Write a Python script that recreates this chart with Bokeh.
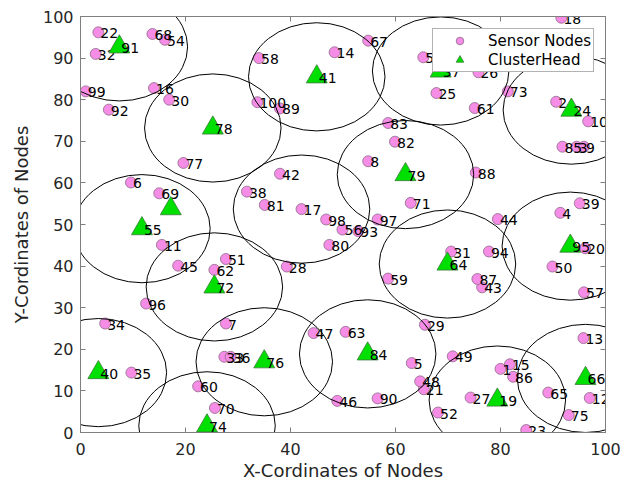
from bokeh.plotting import figure
from bokeh.models import (ColumnDataSource, Range1d, FixedTicker, LinearAxis,
                          Legend, LegendItem, Label)
from bokeh.embed import file_html
from bokeh.resources import INLINE
from bokeh.core.properties import value

# ---- sensor nodes (id, x, y) ----
sensor_ids = [1, 2, 3, 4, 5, 6, 7, 8, 9, 10, 11, 12, 13, 14, 15, 16, 17, 18, 20,
              21, 22, 23, 25, 26, 27, 28, 29, 30, 31, 32, 33, 34, 35, 36, 38, 39,
              42, 43, 44, 45, 46, 47, 48, 49, 50, 51, 52, 53, 54, 56, 57, 58, 59,
              60, 61, 62, 63, 65, 67, 68, 69, 70, 71, 73, 75, 77, 80, 81, 82, 83,
              85, 86, 87, 88, 89, 90, 92, 93, 94, 96, 97, 98, 99, 100]
sensor_x = [80.0, 90.6, 94.5, 91.4, 63.1, 9.6, 27.7, 54.8, 95.9, 96.7, 15.5, 97.0,
            95.8, 48.4, 81.8, 14.0, 42.1, 91.6, 96.1, 65.4, 3.4, 84.9, 67.8, 75.8,
            74.3, 39.3, 65.6, 16.9, 70.6, 2.9, 27.4, 4.7, 9.7, 28.6, 31.7, 95.1,
            38.0, 76.5, 79.5, 18.6, 48.9, 44.4, 64.7, 70.9, 89.9, 27.7, 68.1, 65.3,
            16.1, 49.9, 95.9, 34.0, 58.6, 22.4, 75.1, 25.5, 50.5, 89.1, 54.8, 13.7,
            15.0, 25.6, 62.9, 81.4, 93.0, 19.6, 47.4, 35.1, 59.9, 58.6, 91.8, 82.4,
            75.6, 75.3, 38.0, 56.6, 5.4, 52.9, 77.8, 12.5, 56.6, 46.8, 1.0, 33.7]
sensor_y = [15.3, 79.5, 68.7, 52.8, 16.7, 60.1, 26.2, 65.2, 68.7, 74.8, 45.1, 8.3,
            22.7, 91.4, 16.4, 82.8, 53.7, 99.7, 44.3, 10.4, 96.2, 0.6, 81.6, 86.6,
            8.4, 39.9, 25.9, 80.0, 43.5, 91.0, 18.2, 26.2, 14.4, 18.2, 57.9, 55.1,
            62.2, 34.9, 51.3, 40.1, 7.6, 23.9, 12.3, 18.3, 39.9, 41.7, 4.8, 90.2,
            94.4, 48.8, 33.7, 90.0, 37.0, 11.1, 78.0, 39.1, 24.2, 9.6, 94.2, 95.8,
            57.5, 5.9, 55.2, 82.0, 4.2, 64.8, 45.1, 54.7, 69.9, 74.4, 68.7, 13.4,
            36.9, 62.5, 77.9, 8.2, 77.6, 48.4, 43.5, 31.0, 51.2, 51.2, 82.0, 79.4]

# ---- cluster heads (id, x, y) ----
head_ids = [19, 24, 37, 40, 41, 55, 64, 66, 72, 74, 76, 78, 79, 84, 91, 95]
head_x = [79.4, 93.5, 68.6, 3.4, 45.0, 11.7, 69.9, 96.2, 25.5, 24.1, 35.0, 25.2,
          61.9, 54.7, 7.4, 93.3]
head_y = [7.8, 77.5, 86.9, 14.4, 85.5, 49.0, 40.5, 13.0, 35.0, 1.6, 17.0, 73.2,
          62.0, 18.9, 92.7, 44.8]

# extra head marker drawn without an id
extra_head_x = [17.2]
extra_head_y = [53.8]

# coverage ranges: every cluster head plus node 17
range_ids = head_ids + [17]
coverage_radius = 13

x_ticks = [0, 20, 40, 60, 80, 100]
y_ticks = [0, 10, 20, 30, 40, 50, 60, 70, 80, 90, 100]

FONT = "DejaVu Sans"
GRAY = "#7f7f7f"
TXT = "#262626"
PINK, PINK_EDGE = "#F58CE6", "#8E6A8A"
GREEN, GREEN_EDGE = "#00E000", "#3C7A3C"

pos = {i: (x, y) for i, x, y in zip(sensor_ids, sensor_x, sensor_y)}
pos.update({i: (x, y) for i, x, y in zip(head_ids, head_x, head_y)})

sensor_src = ColumnDataSource(dict(x=sensor_x, y=sensor_y,
                                   label=[str(i) for i in sensor_ids]))
head_src = ColumnDataSource(dict(x=head_x, y=head_y,
                                 label=[str(i) for i in head_ids]))
head_marker_src = ColumnDataSource(dict(x=head_x + extra_head_x,
                                        y=head_y + extra_head_y))
range_src = ColumnDataSource(dict(x=[pos[i][0] for i in range_ids],
                                  y=[pos[i][1] for i in range_ids],
                                  d=[2 * coverage_radius] * len(range_ids)))

p = figure(width=629, height=484, output_backend="svg", toolbar_location=None,
           x_range=Range1d(0, 100), y_range=Range1d(0, 100),
           min_border_left=80, min_border_right=24, min_border_top=16,
           min_border_bottom=52)
p.xgrid.visible = False
p.ygrid.visible = False
p.outline_line_color = GRAY
p.background_fill_color = "white"
p.border_fill_color = "white"

for ax, ticks in ((p.xaxis[0], x_ticks), (p.yaxis[0], y_ticks)):
    ax.ticker = FixedTicker(ticks=ticks)
    ax.major_tick_in = 5
    ax.major_tick_out = 0
    ax.minor_tick_line_color = None
    ax.axis_line_color = GRAY
    ax.major_tick_line_color = GRAY
    ax.major_label_text_font = FONT
    ax.major_label_text_font_size = "16px"
    ax.major_label_text_color = TXT
    ax.axis_label_text_font = FONT
    ax.axis_label_text_font_size = "18px"
    ax.axis_label_text_font_style = "normal"
    ax.axis_label_text_color = TXT

p.xaxis.axis_label = "X-Cordinates of Nodes"
p.yaxis.axis_label = "Y-Cordinates of Nodes"
p.xaxis.major_label_standoff = 10
p.yaxis.major_label_standoff = 7
p.xaxis.axis_label_standoff = 2
p.yaxis.axis_label_standoff = 8

# mirrored tick marks on top and right (no labels)
for loc, ticks in (("above", x_ticks), ("right", y_ticks)):
    ax = LinearAxis(ticker=FixedTicker(ticks=ticks), major_tick_in=5,
                    major_tick_out=0, minor_tick_line_color=None,
                    axis_line_color=GRAY, major_tick_line_color=GRAY,
                    major_label_overrides={t: "" for t in ticks},
                    major_label_standoff=0)
    p.add_layout(ax, loc)

# sensor nodes and their ids
r_sensor = p.scatter("x", "y", source=sensor_src, marker="circle", size=11,
                     fill_color=PINK, line_color=PINK_EDGE, line_width=0.8)
p.text("x", "y", text="label", source=sensor_src, x_offset=2, y_offset=1,
       text_baseline="middle", text_align="left", text_font=value(FONT),
       text_font_size="14px", text_color="black")

# cluster heads and their ids
r_head = p.scatter("x", "y", source=head_marker_src, marker="triangle", size=21,
                   fill_color=GREEN, line_color=GREEN_EDGE, line_width=0.8)
p.text("x", "y", text="label", source=head_src, x_offset=2, y_offset=1,
       text_baseline="middle", text_align="left", text_font=value(FONT),
       text_font_size="14px", text_color="black")

# coverage ranges
p.ellipse("x", "y", width="d", height="d", source=range_src,
          fill_color=None, line_color="black", line_width=1)

legend = Legend(items=[LegendItem(label="Sensor Nodes", renderers=[r_sensor]),
                       LegendItem(label="ClusterHead", renderers=[r_head])],
                location=(352, 360), padding=2, spacing=0, margin=0,
                glyph_width=49, glyph_height=19, label_height=19,
                label_standoff=4, label_text_font=FONT,
                label_text_font_size="15px", label_text_color="black",
                border_line_color="#666666", background_fill_color="white",
                background_fill_alpha=1.0)
p.add_layout(legend)

# chart title, sitting mostly above the top edge of the page
p.add_layout(Label(x=120, y=431, x_units="screen", y_units="screen",
                   text="Figure: Network Formation", text_align="left",
                   text_baseline="alphabetic", text_font=FONT,
                   text_font_size="16px", text_font_style="bold",
                   text_color="black"))

open("out.html", "w").write(file_html(p, INLINE))
